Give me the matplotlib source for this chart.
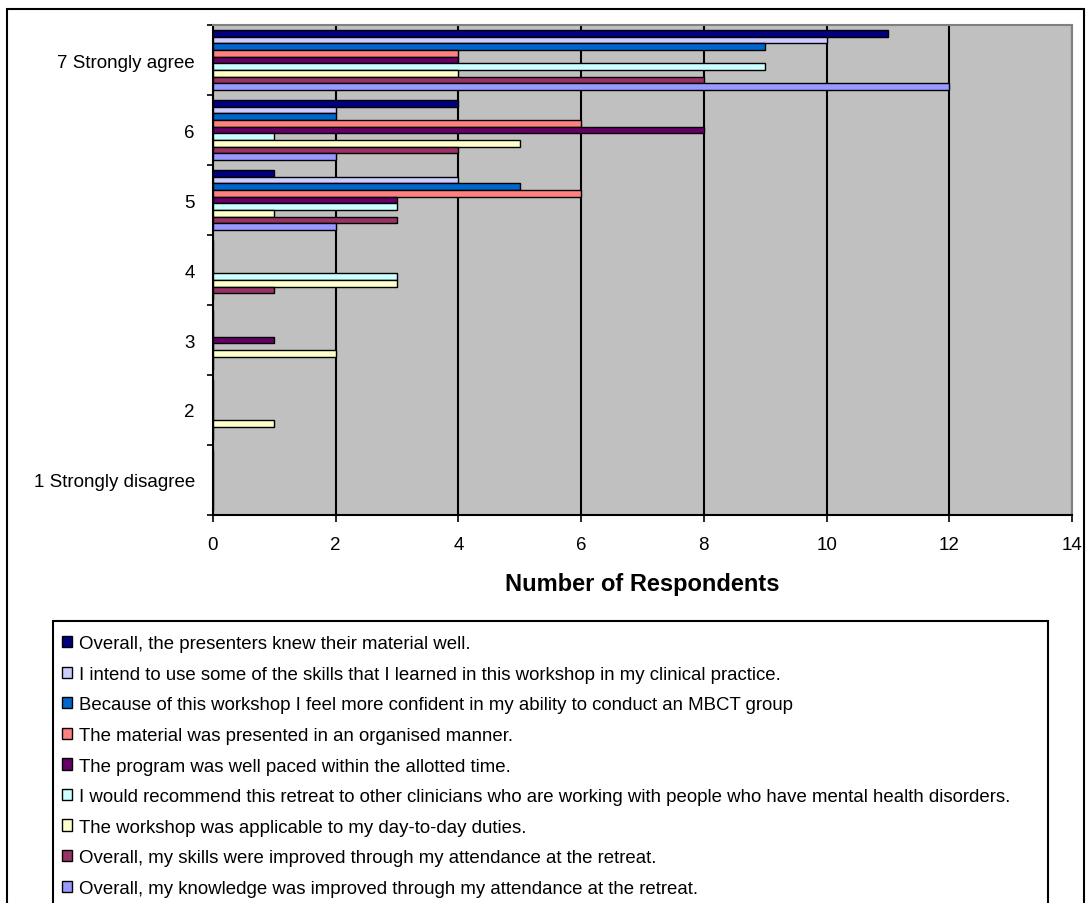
import matplotlib
matplotlib.use('Agg')
import matplotlib.pyplot as plt
import numpy as np
from matplotlib.patches import Rectangle

plt.rcParams['font.family'] = ['Liberation Sans', 'DejaVu Sans']

categories = ['1 Strongly disagree', '2', '3', '4', '5', '6', '7 Strongly agree']

series = [
    'Overall, the presenters knew their material well.',
    'I intend to use some of the skills that I learned in this workshop in my clinical practice.',
    'Because of this workshop I feel more confident in my ability to conduct an MBCT group',
    'The material was presented in an organised manner.',
    'The program was well paced within the allotted time.',
    'I would recommend this retreat to other clinicians who are working with people who have mental health disorders.',
    'The workshop was applicable to my day-to-day duties.',
    'Overall, my skills were improved through my attendance at the retreat.',
    'Overall, my knowledge was improved through my attendance at the retreat.',
]

colors = ['#000080', '#CCCCFF', '#0066CC', '#FF8080', '#660066',
          '#CCFFFF', '#FFFFCC', '#993366', '#9999FF']

# counts per category, 1 Strongly disagree .. 7 Strongly agree
presenters = [0, 0, 0, 0, 1, 4, 11]
intend     = [0, 0, 0, 0, 4, 2, 10]
confident  = [0, 0, 0, 0, 5, 2, 9]
organised  = [0, 0, 0, 0, 6, 6, 4]
paced      = [0, 0, 1, 0, 3, 8, 4]
recommend  = [0, 0, 0, 3, 3, 1, 9]
applicable = [0, 1, 2, 3, 1, 5, 4]
skills     = [0, 0, 0, 1, 3, 4, 8]
knowledge  = [0, 0, 0, 0, 2, 2, 12]

values = [presenters, intend, confident, organised, paced,
          recommend, applicable, skills, knowledge]

W, H = 1086, 904
fig = plt.figure(figsize=(W / 100, H / 100), dpi=100)
ax = fig.add_axes([213 / W, 1 - 516 / H, (1072 - 213) / W, (516 - 26) / H])
ax.set_facecolor('#C0C0C0')

pos = np.arange(len(categories))
h = 1 / 10.5
for i, (vals, c) in enumerate(zip(values, colors)):
    ax.barh(pos + (4 - i) * h, vals, height=h, color=c,
            edgecolor='black', linewidth=1.0, zorder=3)

ax.set_xlim(0, 14)
ax.set_ylim(-0.5, 6.5)
ax.set_xticks(range(0, 15, 2))
ax.grid(axis='x', color='black', linewidth=1.5, zorder=1)
ax.set_axisbelow(True)

ax.set_yticks(np.arange(-0.5, 7, 1))
ax.set_yticklabels([])
ax.set_yticks(pos, minor=True)
ax.set_yticklabels(categories, minor=True)
ax.tick_params(axis='y', which='minor', length=0, pad=13, labelsize=13.5)
ax.tick_params(axis='y', which='major', length=4.5, width=1.2, direction='out')
ax.tick_params(axis='x', length=5, width=1.2, direction='out', pad=10, labelsize=13.5)

for s in ['top', 'right']:
    ax.spines[s].set_color('#808080')
    ax.spines[s].set_linewidth(1.5)
for s in ['left', 'bottom']:
    ax.spines[s].set_color('black')
    ax.spines[s].set_linewidth(1.5)

ax.set_xlabel('Number of Respondents', fontsize=17, fontweight='bold', labelpad=14)

handles = [Rectangle((0, 0), 1, 1, facecolor=c, edgecolor='black', linewidth=1.0)
           for c in colors]
leg = fig.legend(handles, series, loc='upper left',
                 bbox_to_anchor=(51 / W, 1 - 625 / H),
                 borderaxespad=0, fontsize=13.4,
                 handlelength=0.55, handleheight=0.55, handletextpad=0.35,
                 labelspacing=0.73, borderpad=0.6, frameon=False)

# legend box, runs off the bottom of the picture
fig.patches.append(Rectangle((53 / W, -0.02), (1048 - 53) / W, 1.02 - 622 / H,
                             transform=fig.transFigure, fill=False,
                             edgecolor='black', linewidth=1.5))

# outer chart border
fig.patches.append(Rectangle((7 / W, -0.01), (1084 - 7) / W, 1.01 - 10 / H,
                             transform=fig.transFigure, fill=False,
                             edgecolor='black', linewidth=1.5))

fig.savefig('out.png', dpi=100)
